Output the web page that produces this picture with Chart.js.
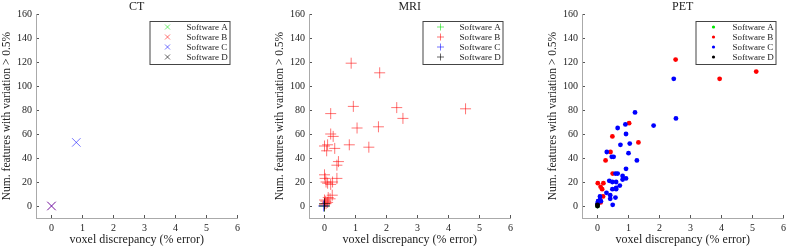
<!DOCTYPE html>
<html lang="en">
<head>
<meta charset="UTF-8">
<title>Voxel discrepancy vs. feature variation</title>
<script src="https://cdn.jsdelivr.net/npm/chart.js"></script>
<style>
  body { margin: 0; background: #fff; }
  .panel { position: absolute; top: 0; width: 247px; height: 249px; }
</style>
</head>
<body>

<div class="panel" style="left:0px"><canvas id="chart0" width="247" height="249"></canvas></div>
<div class="panel" style="left:273px"><canvas id="chart1" width="247" height="249"></canvas></div>
<div class="panel" style="left:546px"><canvas id="chart2" width="247" height="249"></canvas></div>

<script>
/* Axis ticks and names. */
const xTicks = [0, 1, 2, 3, 4, 5, 6]
const yTicks = [0, 20, 40, 60, 80, 100, 120, 140, 160]
const softwareNames = ["Software A", "Software B", "Software C", "Software D"]
const panelTitles = ["CT", "MRI", "PET"]

/* CT points, [voxel discrepancy, num. features]. */
const ctA = []
const ctB = [[0, 0]]
const ctC = [[0.8, 53], [0, 0]]
const ctD = []

/* MRI points. */
const mriA = [[0, 0]]
const mriB = [
  [0.86, 119], [1.78, 111], [0.93, 83], [2.33, 82], [4.55, 81], [2.53, 73], [0.2, 77],
  [1.05, 65], [1.74, 66], [0.8, 51], [1.43, 49], [0.2, 60], [0.28, 58], [0.33, 48],
  [0.1, 51], [0, 50], [0.07, 46], [0.45, 37], [0.4, 34], [0, 26], [0.02, 23], [0.1, 19],
  [0.26, 20], [0.4, 23], [0.2, 18], [0.05, 20], [0.25, 9], [0.18, 6], [0.04, 4],
  [0.1, 3], [0, 1], [0.05, 2], [0.12, 7], [0, 5]
]
const mriC = [[-0.03, 0]]
const mriD = [[0, 2], [0, 0]]

/* PET points. */
const petA = [[0, 0]]
const petB = [
  [2.52, 122], [3.94, 106], [5.12, 112], [1.02, 69], [0.48, 58], [1.32, 53], [0.42, 45],
  [0.26, 38], [0.49, 27], [0.01, 19], [0.19, 19], [0.1, 16], [0.15, 14], [0.18, 8], [0.1, 3]
]
const petC = [
  [2.46, 106], [2.53, 73], [1.21, 78], [1.81, 67], [0.9, 68], [0.65, 65], [0.92, 60],
  [0.74, 51], [1.04, 52], [1.0, 44], [0.3, 45], [0.46, 41], [0.52, 41], [1.27, 38],
  [0.92, 31], [0.58, 27], [0.65, 27], [0.81, 25], [0.81, 22], [0.92, 23], [0.38, 21],
  [0.48, 20], [0.6, 20], [0.72, 17], [0.6, 15], [0.6, 14], [0.48, 14], [0.29, 11],
  [0.41, 9], [0.41, 6], [0.58, 7], [0.49, 1], [0.08, 8], [0.08, 5], [0.03, 4], [0, 2],
  [0.02, 4], [0.11, 4]
]
const petD = [[0, 0], [0, 1]]

const fontFamily = "'Liberation Serif', 'DejaVu Serif', serif"
const textColor = "#222"

/* Title and legend box drawn inside each panel. */
const panelDecor = {
  id: "panelDecor",
  afterDraw(chart, args, opts) {
    const ctx = chart.ctx
    const area = chart.chartArea
    ctx.save()
    ctx.fillStyle = textColor
    ctx.font = "12px " + fontFamily
    ctx.textAlign = "center"
    ctx.textBaseline = "middle"
    ctx.fillText(opts.title, (area.left + area.right) / 2, area.top - 7)

    const bx = area.right - 88, by = area.top + 7, bw = 80, bh = 43
    ctx.fillStyle = "#fff"
    ctx.fillRect(bx, by, bw, bh)
    ctx.strokeStyle = "#444"
    ctx.lineWidth = 1
    ctx.strokeRect(bx + 0.5, by + 0.5, bw, bh)

    chart.data.datasets.forEach((ds, i) => {
      const my = by + 6 + i * 10
      const mx = bx + 18
      ctx.strokeStyle = ds.borderColor
      ctx.fillStyle = ds.backgroundColor
      ctx.beginPath()
      if (opts.marker === "crossRot") {
        ctx.moveTo(mx - 2.5, my - 2.5); ctx.lineTo(mx + 2.5, my + 2.5)
        ctx.moveTo(mx - 2.5, my + 2.5); ctx.lineTo(mx + 2.5, my - 2.5)
        ctx.stroke()
      } else if (opts.marker === "cross") {
        ctx.moveTo(mx - 3.5, my); ctx.lineTo(mx + 3.5, my)
        ctx.moveTo(mx, my - 3.5); ctx.lineTo(mx, my + 3.5)
        ctx.stroke()
      } else {
        ctx.arc(mx, my, 1.6, 0, Math.PI * 2)
        ctx.fill()
      }
      ctx.fillStyle = textColor
      ctx.font = "9px " + fontFamily
      ctx.textAlign = "left"
      ctx.fillText(ds.label, bx + 37, my + 0.5)
    })
    ctx.restore()
  }
}

const toPoints = arr => arr.map(p => ({ x: p[0], y: p[1] }))

const makeChart = (id, title, marker, series, colors, radius, width) => {
  const ctx = document.getElementById(id).getContext("2d")
  return new Chart(ctx, {
    type: "scatter",
    data: {
      datasets: series.map((s, i) => ({
        label: softwareNames[i],
        data: toPoints(s),
        order: 3 - i,
        pointStyle: marker,
        pointRadius: radius,
        pointHoverRadius: radius,
        borderWidth: width,
        pointBorderWidth: width,
        borderColor: colors[i],
        backgroundColor: colors[i]
      }))
    },
    options: {
      responsive: false,
      animation: false,
      layout: { padding: { top: 14, right: 3, left: 0, bottom: 0 } },
      plugins: {
        legend: { display: false },
        tooltip: { enabled: false },
        panelDecor: { title: title, marker: marker }
      },
      scales: {
        x: {
          type: "linear",
          min: -0.5,
          max: 6,
          afterBuildTicks: s => { s.ticks = xTicks.map(v => ({ value: v })) },
          afterFit: s => { s.height = 31 },
          grid: { drawOnChartArea: false, drawTicks: true, tickLength: -3, color: "#555" },
          border: { color: "#aaa", width: 1 },
          ticks: { padding: 7, color: textColor, font: { family: fontFamily, size: 10 } },
          title: {
            display: true,
            text: "voxel discrepancy (% error)",
            color: textColor,
            font: { family: fontFamily, size: 12 },
            padding: { top: 0, bottom: 1.5 }
          }
        },
        y: {
          type: "linear",
          min: -10,
          max: 160,
          afterBuildTicks: s => { s.ticks = yTicks.map(v => ({ value: v })) },
          afterFit: s => { s.width = 36 },
          grid: { drawOnChartArea: false, drawTicks: true, tickLength: -3, color: "#555" },
          border: { color: "#aaa", width: 1 },
          ticks: { padding: 7, color: textColor, font: { family: fontFamily, size: 10 } },
          title: {
            display: true,
            text: "Num. features with variation > 0.5%",
            color: textColor,
            font: { family: fontFamily, size: 11.5 },
            padding: 0
          }
        }
      }
    },
    plugins: [panelDecor]
  })
}

const lightColors = ["rgba(0,220,0,0.55)", "rgba(255,0,0,0.55)", "rgba(0,0,255,0.55)", "rgba(0,0,0,0.6)"]
const solidColors = ["rgb(0,230,0)", "rgb(255,0,0)", "rgb(0,0,255)", "rgb(0,0,0)"]

makeChart("chart0", panelTitles[0], "crossRot", [ctA, ctB, ctC, ctD], lightColors, 6, 1)
makeChart("chart1", panelTitles[1], "cross", [mriA, mriB, mriC, mriD], lightColors, 5.5, 1)
makeChart("chart2", panelTitles[2], "circle", [petA, petB, petC, petD], solidColors, 2.4, 0)
</script>
</body>
</html>
